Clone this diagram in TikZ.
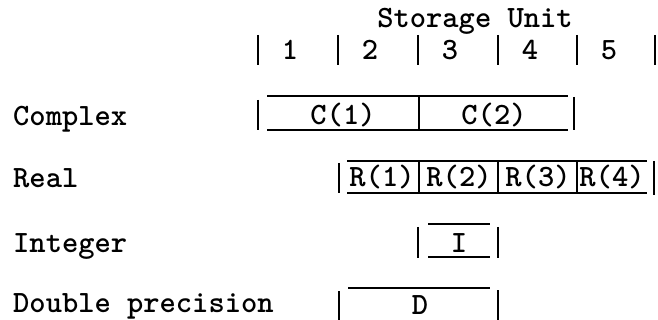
\documentclass[tikz,border=0pt]{standalone}
\begin{document}
\begin{tikzpicture}[x=1pt, y=-1pt,
    font=\ttfamily\bfseries\fontsize{31}{35}\selectfont,
    bar/.style={line width=2.4pt},
    rule/.style={line width=1.8pt},
    txt/.style={anchor=base, inner sep=0pt}]
	\useasboundingbox (0,0) rectangle (658,320);
	% column boundaries of the storage units
	\def\bounds {258,338,418,498,577,655};
	% header
	\node[txt] (title) at (475,28) {Storage Unit};
	\foreach \bx in \bounds
	{
		\draw[bar] (\bx,35) -- (\bx,65);
	}
	\foreach \bx [count=\index] in {258,338,418,498,577}
	{
		\node[txt] (u_\index) at (\bx+32,60) {\index};
	}
	% row labels
	\foreach \name/\y [count=\index] in {Complex/126, Real/188, Integer/252, Double precision/312}
	{
		\node[txt, anchor=base west] (l_\index) at (13,\y) {\name};
	}
	% complex: two units each
	\node[txt] (c_1) at (343,125) {C(1)};
	\node[txt] (c_2) at (494,125) {C(2)};
	\draw[rule] (267,96) -- (568,96)
		(267,130) -- (568,130);
	\draw[bar] (258,100) -- (258,130)
		(419,96) -- (419,130)
		(574,97) -- (574,130);
	% real: one unit each
	\foreach \cx [count=\index] in {382,459,538,612}
	{
		\node[txt] (r_\index) at (\cx,187) {R(\index)};
	}
	\draw[rule] (347,161) -- (647,161)
		(347,193) -- (647,193);
	\draw[bar] (339,163) -- (339,193)
		(419,161) -- (419,193)
		(498,161) -- (498,193)
		(577,161) -- (577,193)
		(654,161) -- (654,195);
	% integer
	\node[txt] (i) at (459,252) {I};
	\draw[rule] (428,224) -- (490,224)
		(428,257) -- (490,257);
	\draw[bar] (418,227) -- (418,258)
		(498,227) -- (498,258);
	% double precision
	\node[txt] (d) at (420,314) {D};
	\draw[rule] (348,288) -- (490,288);
	\draw[bar] (339,291) -- (339,320)
		(498,290) -- (498,320);
\end{tikzpicture}
\end{document}
